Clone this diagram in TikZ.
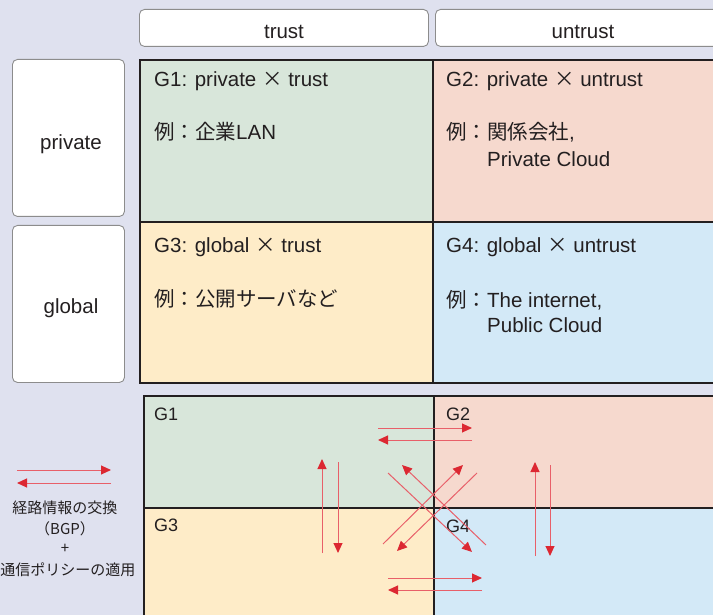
\documentclass[tikz,border=0pt]{standalone}
\usepackage{fontspec}
\setmainfont{Liberation Sans}
\newfontfamily\jp{Noto Sans CJK JP}
\usetikzlibrary{arrows.meta}
\definecolor{bg}{RGB}{223,225,239}
\definecolor{cgA}{RGB}{216,230,218}
\definecolor{cgB}{RGB}{246,217,206}
\definecolor{cgC}{RGB}{254,236,200}
\definecolor{cgD}{RGB}{211,233,247}
\definecolor{gridc}{RGB}{35,31,32}
\definecolor{boxc}{RGB}{140,140,140}
\definecolor{arr}{RGB}{220,40,50}
\definecolor{arrline}{RGB}{232,95,105}
\definecolor{txt}{RGB}{35,31,32}
\tikzset{
  cell/.style={draw=gridc, line width=1.6pt, anchor=north west, inner sep=0pt, minimum width=#1},
  hdr/.style={draw=boxc, fill=white, line width=0.9pt, rounded corners=5pt, anchor=north west, inner sep=0pt},
  lbl/.style={font=\fontsize{20.5}{24}\selectfont, text=txt, anchor=base west, inner sep=0pt},
  clbl/.style={font=\fontsize{20.5}{24}\selectfont, text=txt, anchor=base, inner sep=0pt},
  glbl/.style={font=\fontsize{18}{22}\selectfont, text=txt, anchor=base west, inner sep=0pt},
  leg/.style={font=\jp\fontsize{15}{18}\selectfont, text=txt, anchor=center, inner sep=0pt},
  rarrow/.style={draw=arrline, line width=1pt, -{Triangle[length=10pt,width=9pt,color=arr]}}
}
\begin{document}
\begin{tikzpicture}[x=1pt,y=-1pt]
\useasboundingbox (0,0) rectangle (713,615);
\clip (0,0) rectangle (713,615);
\fill[bg] (0,0) rectangle (713,615);

% header boxes
\node[hdr, minimum width=289pt, minimum height=37pt] (htrust) at (139,9) {};
\node[hdr, minimum width=300pt, minimum height=37pt] (huntrust) at (435,9) {};
\node[clbl] (ttrust) at (284,39) {trust};
\node[clbl] (tuntrust) at (583,39) {untrust};

% row boxes
\node[hdr, minimum width=112pt, minimum height=157pt] (hpriv) at (12,59) {};
\node[hdr, minimum width=112pt, minimum height=157pt] (hglob) at (12,225) {};
\node[clbl] (tpriv) at (71,150) {private};
\node[clbl] (tglob) at (71,313) {global};

% top grid
\node[cell=293pt, fill=cgA, minimum height=162pt] (a1) at (139,59) {};
\node[cell=300pt, fill=cgB, minimum height=162pt] (a2) at (432,59) {};
\node[cell=293pt, fill=cgC, minimum height=161pt] (a3) at (139,221) {};
\node[cell=300pt, fill=cgD, minimum height=161pt] (a4) at (432,221) {};

\node[lbl] (g1t) at (154,87) {G1: private {\jp ×} trust};
\node[lbl] (g1e) at (154,140) {{\jp 例：企業}LAN};
\node[lbl] (g2t) at (446,87) {G2: private {\jp ×} untrust};
\node[lbl] (g2e) at (446,140) {{\jp 例：関係会社}, };
\node[lbl] (g2f) at (487,167) {Private Cloud};
\node[lbl] (g3t) at (154,252) {G3: global {\jp ×} trust};
\node[lbl] (g3e) at (154,306) {\jp 例：公開サーバなど};
\node[lbl] (g4t) at (446,252) {G4: global {\jp ×} untrust};
\node[lbl] (g4e) at (446,307) {{\jp 例：}The internet,};
\node[lbl] (g4f) at (487,332) {Public Cloud};

% bottom grid
\node[cell=290pt, fill=cgA, minimum height=112pt] (b1) at (143,395) {};
\node[cell=300pt, fill=cgB, minimum height=112pt] (b2) at (433,395) {};
\node[cell=290pt, fill=cgC, minimum height=120pt] (b3) at (143,507) {};
\node[cell=300pt, fill=cgD, minimum height=120pt] (b4) at (433,507) {};

\node[glbl] (bg1) at (154,420) {G1};
\node[glbl] (bg2) at (446,420) {G2};
\node[glbl] (bg3) at (154,531) {G3};
\node[glbl] (bg4) at (446,532) {G4};

% arrow endpoints
\coordinate (h12a) at (378,428); \coordinate (h12b) at (472,428);
\coordinate (h21a) at (472,440); \coordinate (h21b) at (378,440);
\coordinate (h34a) at (388,578); \coordinate (h34b) at (482,578);
\coordinate (h43a) at (482,590); \coordinate (h43b) at (388,590);
\coordinate (v31a) at (322,553); \coordinate (v31b) at (322,459);
\coordinate (v13a) at (338,462); \coordinate (v13b) at (338,553);
\coordinate (v42a) at (535,556); \coordinate (v42b) at (535,462);
\coordinate (v24a) at (550,465); \coordinate (v24b) at (550,556);
\coordinate (d14a) at (388,473); \coordinate (d14b) at (472,552);
\coordinate (d41a) at (486,545); \coordinate (d41b) at (402,465);
\coordinate (d32a) at (383,544); \coordinate (d32b) at (463,465);
\coordinate (d23a) at (477,473); \coordinate (d23b) at (397,551);

\draw[rarrow] (h12a) -- (h12b);
\draw[rarrow] (h21a) -- (h21b);
\draw[rarrow] (h34a) -- (h34b);
\draw[rarrow] (h43a) -- (h43b);
\draw[rarrow] (v31a) -- (v31b);
\draw[rarrow] (v13a) -- (v13b);
\draw[rarrow] (v42a) -- (v42b);
\draw[rarrow] (v24a) -- (v24b);
\draw[rarrow] (d14a) -- (d14b);
\draw[rarrow] (d41a) -- (d41b);
\draw[rarrow] (d32a) -- (d32b);
\draw[rarrow] (d23a) -- (d23b);

% legend
\coordinate (la) at (17,470); \coordinate (lb) at (111,470);
\coordinate (lc) at (111,483); \coordinate (ld) at (17,483);
\draw[rarrow] (la) -- (lb);
\draw[rarrow] (lc) -- (ld);
\node[leg] (l1) at (65,508) {経路情報の交換};
\node[leg] (l2) at (65,529) {（BGP）};
\node[leg] (l3) at (65,549) {+};
\node[leg] (l4) at (68,570) {通信ポリシーの適用};
\end{tikzpicture}
\end{document}
